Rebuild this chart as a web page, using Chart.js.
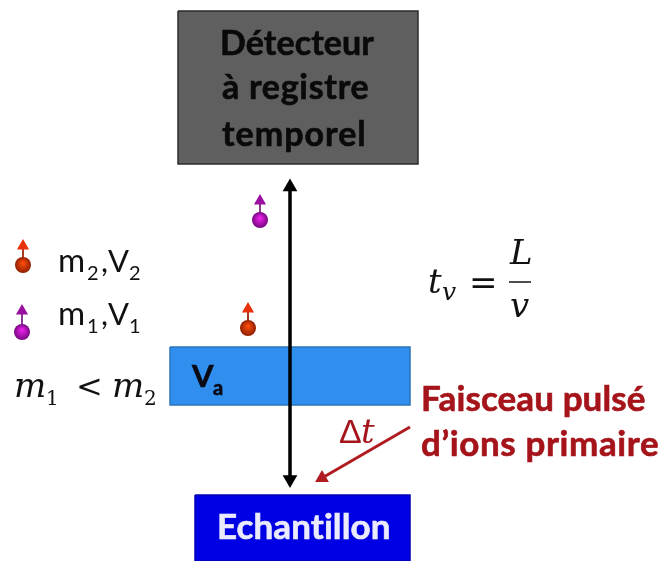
<!DOCTYPE html>
<html>
<head>
<meta charset="utf-8">
<title>Détecteur à registre temporel</title>
<script src="https://cdn.jsdelivr.net/npm/chart.js@4"></script>
<style>
  html, body { margin: 0; padding: 0; background: #fff; }
  canvas { display: block; filter: blur(0.5px); }
</style>
</head>
<body>
<canvas id="schema" width="660" height="561"></canvas>
<script>
// boxes of the schema, in axis units
var boxNames = ['detecteur', 'va', 'echantillon'];
var boxLeft = [178, 170, 195];
var boxRight = [418, 410, 410];
var boxTop = [11, 347, 495];
var boxBottom = [164, 405, 561];

// flight axis and primary beam
var flightX = [290, 290];
var flightY = [186, 482];
var beamX = [410, 322];
var beamY = [427, 478];

// ions: sphere centre and top of the arrow stem
var ionX = [260, 248, 23, 22];
var ionY = [220, 328, 265, 332];
var ionStemEnd = [203, 311, 248, 313];
var ionKind = ['m1', 'm2', 'm2', 'm1'];

var colors = {
    detecteur: { fill: '#5f5f5f', line: '#2b2b2b' },
    va: { fill: '#2f8eee', line: '#2a74b8' },
    echantillon: { fill: '#0000e4', line: '#0000b0' },
    m1: { head: '#9a0fa0', stem: '#8a3a90', light: '#e820e8', dark: '#75087f' },
    m2: { head: '#e8300a', stem: '#a83a20', light: '#f84a08', dark: '#8f1e00' },
    beam: '#b01c20'
};

function sphere(r, c) {
    var cv = document.createElement('canvas');
    cv.width = cv.height = r * 2 + 2;
    var g = cv.getContext('2d');
    var grad = g.createRadialGradient(r + 1, r - 1, 1, r + 1, r + 1, r);
    grad.addColorStop(0, c.light);
    grad.addColorStop(1, c.dark);
    g.fillStyle = grad;
    g.beginPath();
    g.arc(r + 1, r + 1, r, 0, Math.PI * 2);
    g.fill();
    return cv;
}

var datasets = [];

// text labels: [text, x, baseline, font, color, letter spacing]
var bold = 'bold 34px Lato', reg = '31px Lato', sub = '20px Lato';
var big = 'bold 35px Lato';
var math = 'italic 34px "DejaVu Serif"', mathSub = 'italic 25px "DejaVu Serif"';
var red = '#a5141a';
var labels = [
    ['Détecteur', 220, 55, bold, '#0a0a0a', 0.1],
    ['à registre', 222, 99, bold, '#0a0a0a', 0.7],
    ['temporel', 222, 146, bold, '#0a0a0a', 1],
    ['Echantillon', 217, 539, 'bold 35px Lato', '#ebebff', 0.1],
    ['Faisceau pulsé', 421, 411, big, red, 0.1],
    ['d’ions primaire', 421, 456, big, red, 0.6],
    ['V', 192, 387, 'bold 31px Lato', '#0a0a14', 0.1],
    ['a', 213, 395, 'bold 20px Lato', '#0a0a14', 0.1],
    ['m', 58, 272, '33px Lato', '#111', 0.1],
    ['2', 87, 280, sub, '#111', 0.1],
    [',', 101, 272, reg, '#111', 0.1],
    ['V', 108, 272, reg, '#111', 0.1],
    ['2', 129, 280, sub, '#111', 0.1],
    ['m', 58, 325, '33px Lato', '#111', 0.1],
    ['1', 87, 333, sub, '#111', 0.1],
    [',', 101, 325, reg, '#111', 0.1],
    ['V', 108, 325, reg, '#111', 0.1],
    ['1', 129, 333, sub, '#111', 0.1],
    ['m', 14, 397, math, '#111', 0.1],
    ['1', 46, 405, '20px "DejaVu Serif"', '#111', 0.1],
    ['<', 76, 397, '32px "DejaVu Serif"', '#111', 0.1],
    ['m', 112, 397, math, '#111', 0.1],
    ['2', 144, 405, '20px "DejaVu Serif"', '#111', 0.1],
    ['t', 428, 293, math, '#111', 0.1],
    ['v', 442, 300, mathSub, '#111', 0.1],
    ['=', 469, 294, '34px "DejaVu Serif"', '#111', 0.1],
    ['L', 510, 264, math, '#111', 0.1],
    ['v', 510, 317, math, '#111', 0.1],
    ['Δ', 339, 443, '34px "Liberation Sans"', red, 0.1],
    ['t', 361, 443, math, red, 0.1]
];

var textPlugin = {
    id: 'textPlugin',
    afterDatasetsDraw: function (chart) {
        var ctx = chart.ctx, x = chart.scales.x, y = chart.scales.y;
        ctx.save();
        ctx.textBaseline = 'alphabetic';
        labels.forEach(function (l) {
            var px = x.getPixelForValue(l[1]), py = y.getPixelForValue(l[2]);
            ctx.font = l[3];
            ctx.fillStyle = l[4];
            ctx.letterSpacing = l[5] + 'px'; // non zero, keeps Lato from joining "ti"
            ctx.fillText(l[0], px, py);
            if (l[3].indexOf('bold') === 0) {
                ctx.strokeStyle = l[4];
                ctx.lineWidth = 0.6;
                ctx.strokeText(l[0], px, py);
            }
        });
        ctx.restore();
    }
};

function line(xs, ys, color, width, style, radius, rotation) {
    var pts = xs.map(function (v, i) { return { x: v, y: ys[i] }; });
    return {
        data: pts, showLine: true, borderColor: color, borderWidth: width,
        pointStyle: style || false, pointRadius: radius || 0, pointBackgroundColor: color,
        pointBorderWidth: 0, pointRotation: rotation || 0
    };
}

// arrow heads first so they stay on top of the shafts
datasets.push(line([flightX[0]], [187], '#000', 0, 'triangle', 8.5, 0));
datasets.push(line([flightX[1]], [479.5], '#000', 0, 'triangle', 8.5, 180));
datasets.push(line(flightX, flightY, '#000', 3.5));
var beamAngle = Math.atan2(beamX[1] - beamX[0], beamY[0] - beamY[1]) * 180 / Math.PI;
datasets.push(line([beamX[1]], [beamY[1]], colors.beam, 0, 'triangle', 8, beamAngle));
datasets.push(line(beamX, beamY, colors.beam, 3));

ionX.forEach(function (v, i) {
    var c = colors[ionKind[i]];
    var s = line([v], [ionY[i]], c.dark, 0, sphere(8, c), 8);
    var head = line([v], [ionStemEnd[i] - 2], c.head, 0, 'triangle', 7, 0);
    var stem = line([v, v], [ionStemEnd[i], ionY[i]], c.stem, 2);
    datasets.push(s, head, stem);
});

boxNames.forEach(function (name, i) {
    var l = boxLeft[i], r = boxRight[i], t = boxTop[i], b = boxBottom[i];
    datasets.push(line([l, r, r, l, l], [t, t, b, b, t], colors[name].line, 1.5));
    var f = line([l, r], [t, t], colors[name].fill, 0);
    f.fill = { value: b };
    f.backgroundColor = colors[name].fill;
    datasets.push(f);
});

// fraction bar of t_v = L / v
datasets.unshift(line([509, 531], [282, 282], '#111', 1.5));

new Chart(document.getElementById('schema').getContext('2d'), {
    type: 'scatter',
    data: { datasets: datasets },
    plugins: [textPlugin],
    options: {
        responsive: false,
        animation: false,
        layout: { padding: 0, autoPadding: false },
        plugins: { legend: { display: false }, tooltip: { enabled: false } },
        scales: {
            x: { type: 'linear', min: 0, max: 660, display: false },
            y: { type: 'linear', min: 0, max: 561, reverse: true, display: false }
        }
    }
});
</script>
</body>
</html>
